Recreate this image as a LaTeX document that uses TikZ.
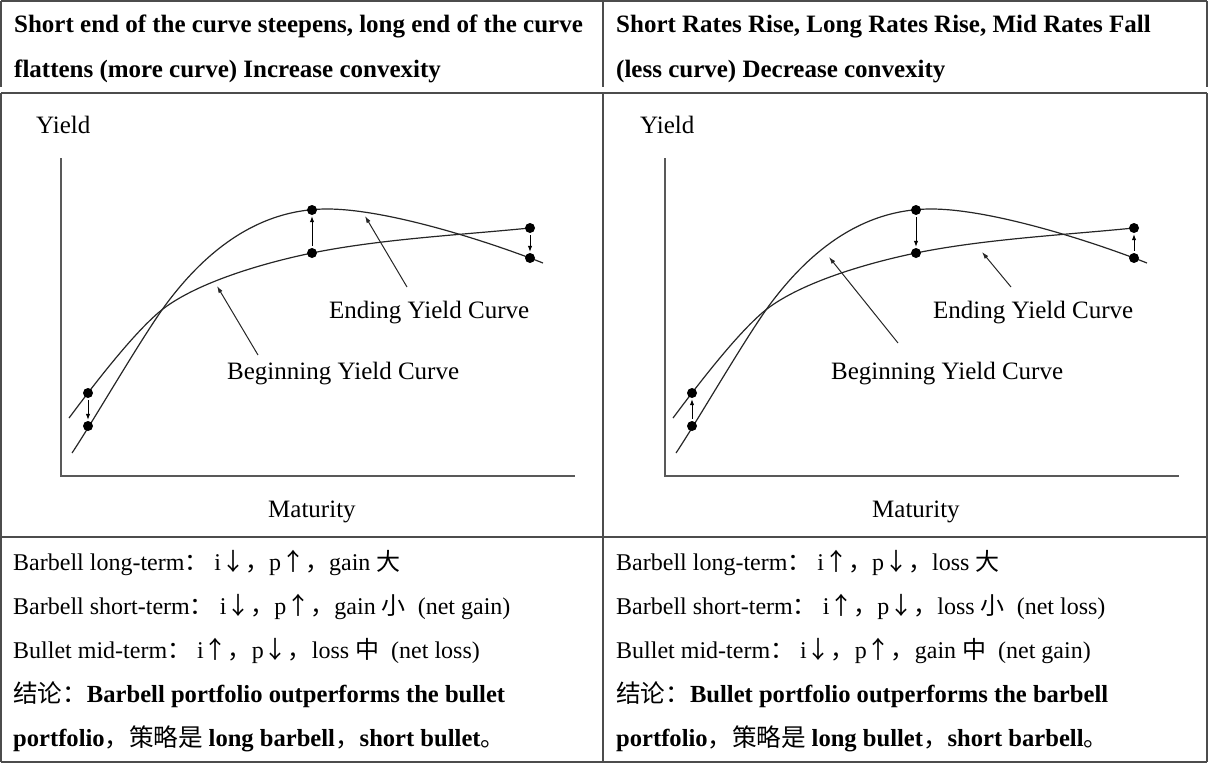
\documentclass[tikz,border=0pt]{standalone}
\usepackage{fontspec}
\setmainfont{Liberation Serif}
\newfontfamily\cjk{Noto Sans CJK SC}
\usetikzlibrary{arrows.meta}

\tikzset{
  txt/.style={anchor=base west, inner sep=0pt, font=\fontsize{24}{28}\selectfont},
  boldtxt/.style={anchor=base west, inner sep=0pt, font=\fontsize{24.6}{28}\selectfont},
  head/.style={anchor=base west, inner sep=0pt, font=\fontsize{25}{30}\selectfont\bfseries},
  lab/.style={anchor=base west, inner sep=0pt, font=\fontsize{25}{30}\selectfont},
  dot/.style={circle, fill=black, inner sep=0pt, minimum size=10pt},
  curve/.style={line width=1.2pt, draw=black!85},
  axis/.style={line width=1.6pt, draw=black!65},
  grid/.style={line width=1.8pt, draw=black!70},
  move/.style={-{Latex[length=6pt,width=4.5pt]}, line width=1pt, shorten >=1pt, shorten <=2pt},
  pointer/.style={-{Latex[length=7pt,width=4.5pt]}, line width=1pt, draw=black!85},
}

\begin{document}
\begin{tikzpicture}[x=1pt,y=-1pt]
\useasboundingbox (0,0) rectangle (1213,766);

% table lines
\draw [grid] (1,1) -- (1207,1) ;
\draw [grid] (1,93) -- (1207,93) ;
\draw [grid] (1,537) -- (1207,537) ;
\draw [grid] (1,762) -- (1207,762) ;
\foreach \gx in {1,603,1207} {
  \draw [grid] (\gx,1) -- (\gx,87) ;
  \draw [grid] (\gx,93) -- (\gx,762) ;
}

% headers
\node [head] (lhead1) at (14,32.5) {Short end of the curve steepens, long end of the curve} ;
\node [head] (lhead2) at (14,77) {flattens (more curve) Increase convexity} ;
\node [head] (rhead1) at (616,32.5) {Short Rates Rise, Long Rates Rise, Mid Rates Fall} ;
\node [head] (rhead2) at (616,77) {(less curve) Decrease convexity} ;

% the two yield curve plots
\foreach \px in {0,604} {
  \begin{scope}[xshift=\px]
    \draw [axis] (61,158) -- (61,476) -- (575,476) ;
    % flatter curve
    \draw [curve] (69,418) .. controls (90,390) and (138,326) .. (167,306)
                           .. controls (204,280) and (268,262) .. (312,253)
                           .. controls (381,239) and (460,235) .. (530,228) ;
    % humped curve
    \draw [curve] (72,453) .. controls (94,420) and (143,335) .. (167,303)
                           .. controls (200,259) and (252,209) .. (327,209)
                           .. controls (387,209) and (487,241) .. (543,263) ;
    \node [dot] (bs\px) at (88,393) {} ;
    \node [dot] (es\px) at (88,426) {} ;
    \node [dot] (em\px) at (312,210) {} ;
    \node [dot] (bm\px) at (312,253) {} ;
    \node [dot] (bl\px) at (530,228) {} ;
    \node [dot] (el\px) at (530,258) {} ;
    \node [lab] (yield\px) at (36,133) {Yield} ;
    \node [lab] (ending\px) at (329,318) {Ending Yield Curve} ;
    \node [lab] (begin\px) at (227,379) {Beginning Yield Curve} ;
    \node [lab] (maturity\px) at (268,517) {Maturity} ;
  \end{scope}
}

% rate moves, left plot
\draw [move] (bs0) -- (es0) ;
\draw [move] (bm0) -- (em0) ;
\draw [move] (bl0) -- (el0) ;
% rate moves, right plot
\draw [move] (es604) -- (bs604) ;
\draw [move] (em604) -- (bm604) ;
\draw [move] (el604) -- (bl604) ;

% label pointers
\coordinate (endTail0) at (407,287) ;
\coordinate (endTip0) at (365,216) ;
\coordinate (begTail0) at (258,355) ;
\coordinate (begTip0) at (217,286) ;
\coordinate (endTail604) at (1011,287) ;
\coordinate (endTip604) at (982,252) ;
\coordinate (begTail604) at (898,343) ;
\coordinate (begTip604) at (829,257) ;
\draw [pointer] (endTail0) -- (endTip0) ;
\draw [pointer] (begTail0) -- (begTip0) ;
\draw [pointer] (endTail604) -- (endTip604) ;
\draw [pointer] (begTail604) -- (begTip604) ;

% bottom row, left
\node [txt] (lrow1) at (13,570) {Barbell long-term{\cjk ：} i\makebox[1em]{\cjk ↓}{\cjk ，}p\makebox[1em]{\cjk ↑}{\cjk ，}gain {\cjk 大}} ;
\node [txt] (lrow2) at (13,614) {Barbell short-term{\cjk ：} i\makebox[1em]{\cjk ↓}{\cjk ，}p\makebox[1em]{\cjk ↑}{\cjk ，}gain {\cjk 小}\enspace(net gain)} ;
\node [txt] (lrow3) at (13,658) {Bullet mid-term{\cjk ：} i\makebox[1em]{\cjk ↑}{\cjk ，}p\makebox[1em]{\cjk ↓}{\cjk ，}loss {\cjk 中}\enspace(net loss)} ;
\node [boldtxt] (lrow4) at (13,702) {{\cjk 结论：}\textbf{Barbell portfolio outperforms the bullet}} ;
\node [boldtxt] (lrow5) at (13,746) {\textbf{portfolio}{\cjk ，策略是 }\textbf{long barbell}{\cjk ，}\textbf{short bullet}{\cjk 。}} ;

% bottom row, right
\node [txt] (rrow1) at (616,570) {Barbell long-term{\cjk ：} i\makebox[1em]{\cjk ↑}{\cjk ，}p\makebox[1em]{\cjk ↓}{\cjk ，}loss {\cjk 大}} ;
\node [txt] (rrow2) at (616,614) {Barbell short-term{\cjk ：} i\makebox[1em]{\cjk ↑}{\cjk ，}p\makebox[1em]{\cjk ↓}{\cjk ，}loss {\cjk 小}\enspace(net loss)} ;
\node [txt] (rrow3) at (616,658) {Bullet mid-term{\cjk ：} i\makebox[1em]{\cjk ↓}{\cjk ，}p\makebox[1em]{\cjk ↑}{\cjk ，}gain {\cjk 中}\enspace(net gain)} ;
\node [boldtxt] (rrow4) at (616,702) {{\cjk 结论：}\textbf{Bullet portfolio outperforms the barbell}} ;
\node [boldtxt] (rrow5) at (616,746) {\textbf{portfolio}{\cjk ，策略是 }\textbf{long bullet}{\cjk ，}\textbf{short barbell}{\cjk 。}} ;

\end{tikzpicture}
\end{document}
